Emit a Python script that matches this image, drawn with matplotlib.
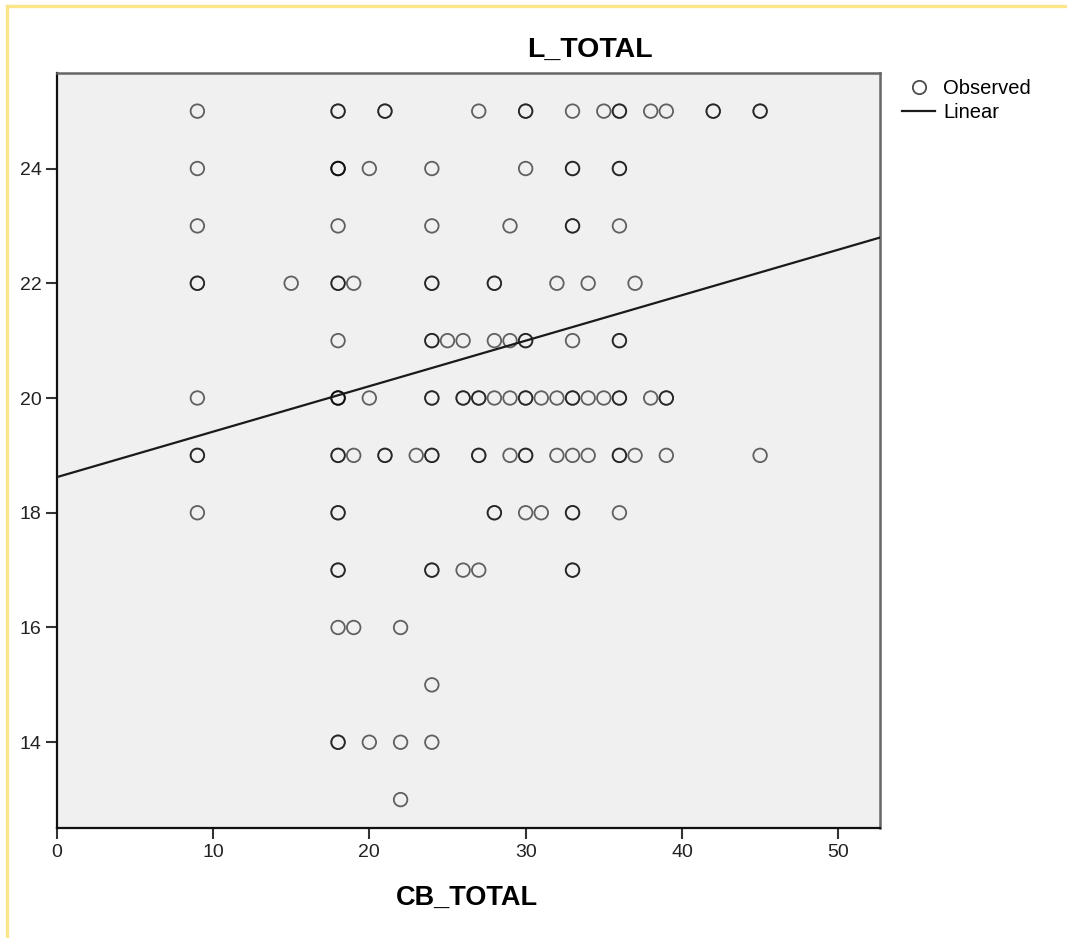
import numpy as np
import matplotlib
matplotlib.use("Agg")
import matplotlib.pyplot as plt
from matplotlib.lines import Line2D

plt.rcParams["font.family"] = ["Liberation Sans", "DejaVu Sans"]

# Observed cases, grouped by L_TOTAL level.
# n = how many cases sit on the same spot (darker rings = more cases)
l_levels = [25, 24, 23, 22, 21, 20, 19, 18, 17, 16, 15, 14, 13]
cb_by_level = [
    [9, 18, 21, 27, 30, 33, 35, 36, 38, 39, 42, 45],
    [9, 18, 20, 24, 30, 33, 36],
    [9, 18, 24, 29, 33, 36],
    [9, 15, 18, 19, 24, 28, 32, 34, 37],
    [18, 24, 25, 26, 28, 29, 30, 33, 36],
    [9, 18, 20, 24, 26, 27, 28, 29, 30, 31, 32, 33, 34, 35, 36, 38, 39],
    [9, 18, 19, 21, 23, 24, 27, 29, 30, 32, 33, 34, 36, 37, 39, 45],
    [9, 18, 28, 30, 31, 33, 36],
    [18, 24, 26, 27, 33],
    [18, 19, 22],
    [24],
    [18, 20, 22, 24],
    [22],
]
n_by_level = [
    [1, 2, 2, 1, 2, 1, 1, 2, 1, 1, 2, 2],
    [1, 3, 1, 1, 1, 2, 2],
    [1, 1, 1, 1, 2, 1],
    [2, 1, 2, 1, 2, 2, 1, 1, 1],
    [1, 2, 1, 1, 1, 1, 2, 1, 2],
    [1, 3, 1, 2, 2, 2, 1, 1, 2, 1, 1, 2, 1, 1, 2, 1, 2],
    [2, 2, 1, 2, 1, 2, 2, 1, 2, 1, 1, 1, 2, 1, 1, 1],
    [1, 2, 2, 1, 1, 2, 1],
    [2, 2, 1, 1, 2],
    [1, 1, 1],
    [1],
    [2, 1, 1, 1],
    [1],
]

# Linear fit
fit_intercept = 18.62
fit_slope = 0.0793

x_max = 52.67
y_min, y_max = 12.5, 25.67

# expand to one point per case
cb_total = []
l_total = []
for lv, cbs, ns in zip(l_levels, cb_by_level, n_by_level):
    for cb, n in zip(cbs, ns):
        cb_total += [cb] * n
        l_total += [lv] * n
cb_total = np.array(cb_total)
l_total = np.array(l_total)

W, H = 1067, 938
fig = plt.figure(figsize=(W / 100, H / 100), dpi=100)
ax = fig.add_axes([56.7 / W, 1 - 828.3 / H, (880 - 56.7) / W, (828.3 - 72.7) / H])
ax.set_facecolor("#f0f0f0")

ax.scatter(cb_total, l_total, s=95, facecolors="none",
           edgecolors=(0, 0, 0, 0.6), linewidths=1.3, zorder=3)

xs = np.array([0, x_max])
ax.plot(xs, fit_intercept + fit_slope * xs, color="#1a1a1a", lw=1.6, zorder=4)

ax.set_xlim(0, x_max)
ax.set_ylim(y_min, y_max)
ax.set_xticks([0, 10, 20, 30, 40, 50])
ax.set_yticks([14, 16, 18, 20, 22, 24])
ax.tick_params(direction="out", length=8, width=1.5, color="#333333",
               labelsize=14, pad=3, labelcolor="#222222")

for side in ["left", "bottom"]:
    ax.spines[side].set_color("#111111")
    ax.spines[side].set_linewidth(1.6)
for side in ["top", "right"]:
    ax.spines[side].set_color("#666666")
    ax.spines[side].set_linewidth(1.8)

fig.text(590 / W, 1 - 50 / H, "L_TOTAL", ha="center", va="center",
         fontsize=20.5, fontweight="bold")
fig.text(467 / W, 1 - 898 / H, "CB_TOTAL", ha="center", va="center",
         fontsize=19.5, fontweight="bold")

handles = [
    Line2D([], [], marker="o", ls="none", ms=9.6, mfc="none",
           mec=(0, 0, 0, 0.7), mew=1.3),
    Line2D([], [], color="#1a1a1a", lw=1.6),
]
fig.legend(handles, ["Observed", "Linear"], loc="upper left",
           bbox_to_anchor=(902 / W, 1 - 79 / H), frameon=False,
           fontsize=14.5, handlelength=1.65, handletextpad=0.4,
           labelspacing=0.25, borderpad=0, borderaxespad=0)

# pale yellow frame of the output viewer
fig.add_artist(Line2D([7 / W, 1], [1 - 6 / H, 1 - 6 / H], color="#fde68a",
                      lw=2.4, transform=fig.transFigure))
fig.add_artist(Line2D([7 / W, 7 / W], [0, 1 - 6 / H], color="#fde68a",
                      lw=2.4, transform=fig.transFigure))

fig.savefig("out.png", dpi=100, facecolor="white")
